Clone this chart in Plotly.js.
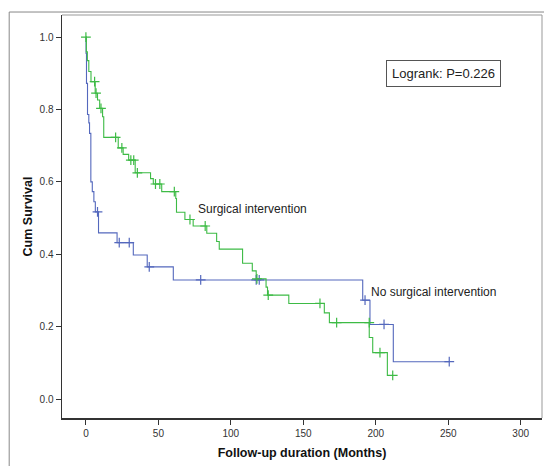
<!DOCTYPE html>
<html>
<head>
<meta charset="utf-8">
<script src="https://cdn.plot.ly/plotly-3.0.1.min.js"></script>
<style>
  html, body { margin: 0; padding: 0; background: #ffffff; }
  #chart { width: 544px; height: 466px; }
</style>
</head>
<body>
<div id="chart"></div>
<script>
// Kaplan-Meier step points (time in months, cumulative survival)
const surgTimes = [0, 0.3, 1, 2, 3.5, 6.4, 8, 9.5, 11.5, 12.3, 22.3, 25.7, 29.5, 34, 44.6, 46.5, 52.3, 62, 62.5, 68.3, 74, 83.4, 90.2, 92, 108.1, 114.8, 117.5, 124.3, 125.3, 140, 164.5, 168, 195.5, 197.9, 208, 211.7];
const surgSurv  = [1.0, 0.959, 0.935, 0.905, 0.877, 0.845, 0.826, 0.803, 0.78, 0.723, 0.694, 0.676, 0.66, 0.625, 0.609, 0.594, 0.573, 0.554, 0.516, 0.496, 0.478, 0.458, 0.435, 0.414, 0.375, 0.354, 0.332, 0.309, 0.287, 0.264, 0.238, 0.211, 0.170, 0.128, 0.065, 0.065];
const surgCensTimes = [0, 6.0, 7, 10.4, 20.5, 24.8, 31, 33, 35.5, 48, 51, 61, 71.8, 82.3, 118, 125.8, 161.5, 173, 195.5, 202.9, 211.7];
const surgCensSurv  = [1.0, 0.877, 0.845, 0.803, 0.723, 0.694, 0.66, 0.66, 0.625, 0.594, 0.594, 0.573, 0.496, 0.478, 0.332, 0.287, 0.264, 0.211, 0.211, 0.128, 0.065];

const noSurgTimes = [0, 0.1, 0.4, 1.1, 2, 2.5, 3.4, 4.4, 5.5, 6.5, 8.7, 21.5, 32.7, 42.3, 60.3, 191, 196, 212.1, 250.7];
const noSurgSurv  = [1.0, 0.955, 0.872, 0.786, 0.763, 0.734, 0.600, 0.573, 0.545, 0.517, 0.459, 0.432, 0.398, 0.365, 0.329, 0.273, 0.206, 0.103, 0.103];
const noSurgCensTimes = [8, 23, 29.9, 43.7, 79.2, 117.5, 119.6, 192.6, 205.7, 250.7];
const noSurgCensSurv  = [0.517, 0.432, 0.432, 0.365, 0.329, 0.329, 0.329, 0.273, 0.206, 0.103];

const xTicks = [0, 50, 100, 150, 200, 250, 300];
const yTicks = [0.0, 0.2, 0.4, 0.6, 0.8, 1.0];

const groupNames = ["Surgical intervention", "No surgical intervention"];
const pValueText = "Logrank: P=0.226";

const green = "#3dbb45";
const blue = "#5468bd";

const traces = [
  { x: noSurgTimes, y: noSurgSurv, mode: "lines", line: { shape: "hv", color: blue, width: 1.1 }, name: groupNames[1], hoverinfo: "skip" },
  { x: surgTimes, y: surgSurv, mode: "lines", line: { shape: "hv", color: green, width: 1.1 }, name: groupNames[0], hoverinfo: "skip" },
  { x: noSurgCensTimes, y: noSurgCensSurv, mode: "markers", marker: { symbol: "cross-thin", size: 7, line: { color: blue, width: 1.2 } }, name: groupNames[1] + " censored" },
  { x: surgCensTimes, y: surgCensSurv, mode: "markers", marker: { symbol: "cross-thin", size: 7, line: { color: green, width: 1.2 } }, name: groupNames[0] + " censored" }
];

const font = "Liberation Sans, Arial, sans-serif";

const layout = {
  width: 544, height: 466,
  margin: { l: 62, r: 2, t: 15, b: 48 },
  paper_bgcolor: "#ffffff", plot_bgcolor: "#ffffff",
  showlegend: false,
  font: { family: font, color: "#222" },
  xaxis: {
    range: [-16.5, 314.7], tickvals: xTicks, ticktext: xTicks.map(String),
    showgrid: false, zeroline: false, showline: true, linecolor: "#333", linewidth: 1.5,
    ticks: "outside", ticklen: 5, tickcolor: "#333", tickwidth: 1,
    tickfont: { size: 10, color: "#333", family: font },
    title: { text: "Follow-up duration (Months)", font: { size: 12.5, color: "#111", family: font, weight: "bold" }, standoff: 10 }
  },
  yaxis: {
    range: [-0.0525, 1.061], tickvals: yTicks, ticktext: yTicks.map(v => v.toFixed(1)),
    showgrid: false, zeroline: false, showline: true, linecolor: "#333", linewidth: 1.5,
    ticks: "outside", ticklen: 5, tickcolor: "#333", tickwidth: 1,
    tickfont: { size: 10, color: "#333", family: font },
    title: { text: "Cum Survival", font: { size: 12.5, color: "#111", family: font, weight: "bold" }, standoff: 4 }
  },
  shapes: [
    // light top/right frame of plot area
    { type: "line", xref: "paper", yref: "paper", x0: 0, x1: 1, y0: 1, y1: 1, line: { color: "#999", width: 1 } },
    { type: "line", xref: "paper", yref: "paper", x0: 1, x1: 1, y0: 0, y1: 1, line: { color: "#999", width: 1 } },
    // outer frame
    { type: "line", xref: "paper", yref: "paper", x0: -0.110, x1: 1.01, y0: 1.0074, y1: 1.0074, line: { color: "#888", width: 1 } },
    { type: "line", xref: "paper", yref: "paper", x0: -0.110, x1: -0.110, y0: -0.125, y1: 1.0074, line: { color: "#888", width: 1 } }
  ],
  annotations: [
    { x: 75.9, y: 0.525, xref: "x", yref: "y", text: groupNames[0], showarrow: false, xanchor: "left", yanchor: "middle", font: { size: 12, color: "#222", family: font } },
    { x: 195.5, y: 0.296, xref: "x", yref: "y", text: groupNames[1], showarrow: false, xanchor: "left", yanchor: "middle", font: { size: 12, color: "#222", family: font } },
    { x: 0.794, y: 0.855, xref: "paper", yref: "paper", text: pValueText, showarrow: false, xanchor: "center", yanchor: "middle",
      font: { size: 13, color: "#222", family: font }, bordercolor: "#555", borderwidth: 1, borderpad: 5, bgcolor: "#fff" }
  ]
};

Plotly.newPlot("chart", traces, layout, { displayModeBar: false, staticPlot: true });
</script>
</body>
</html>
